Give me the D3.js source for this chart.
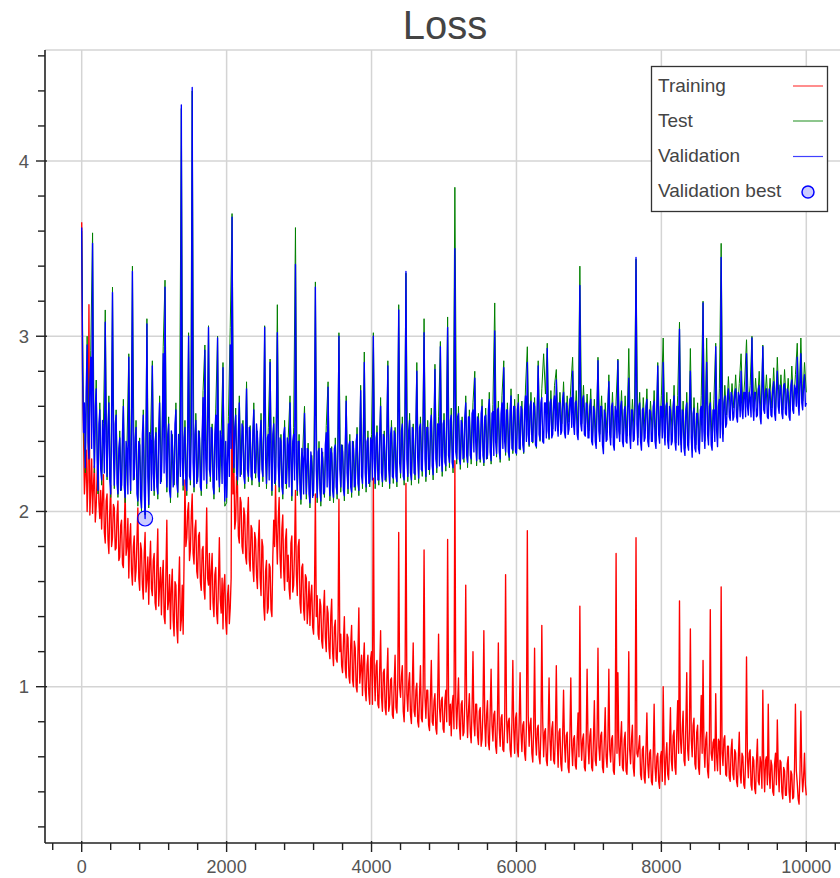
<!DOCTYPE html>
<html>
<head>
<meta charset="utf-8">
<script src="https://cdn.jsdelivr.net/npm/d3@7"></script>
<style>
  body { margin: 0; background: #fff; }
  svg { display: block; }
  text { font-family: "Liberation Sans", Arial, Helvetica, sans-serif; }
</style>
</head>
<body>
<svg id="chart" width="840" height="878"></svg>
<script>
// Loss samples spread evenly over iterations 0 .. 10000
const lastIteration = 10000;

// training loss, one sample every 12.5 iterations
const training = [
  3.65, 2.75, 2.45, 2.10, 2.22, 2.35, 2.00, 2.18, 3.18, 1.98, 2.12, 2.30, 1.99, 2.15, 2.26, 1.94, 2.03, 2.20, 2.31, 2.05, 1.96, 2.12, 1.90, 2.08, 2.21, 1.88, 1.82, 2.06, 2.10, 1.84, 1.76, 2.00, 2.15, 1.80, 1.85, 2.04, 2.02, 1.78, 1.79, 1.98,
  2.06, 1.72, 1.74, 1.92, 1.95, 1.70, 1.68, 1.90, 2.12, 1.75, 1.80, 1.96, 1.62, 1.84, 1.93, 1.66, 1.58, 1.80, 1.86, 1.60, 1.66, 1.84, 2.02, 1.62, 1.55, 1.82, 1.78, 1.58, 1.50, 1.76, 1.88, 1.54, 1.61, 1.74, 1.47, 1.70, 1.83, 1.56, 1.52, 1.72,
  1.76, 1.48, 1.44, 1.70, 1.90, 1.46, 1.58, 1.68, 1.41, 1.62, 1.72, 1.40, 1.36, 1.66, 1.95, 1.44, 1.49, 1.64, 1.33, 1.56, 1.67, 1.38, 1.29, 1.60, 1.58, 1.34, 1.25, 1.56, 1.74, 1.32, 1.38, 1.58, 1.30, 1.72, 2.18, 1.80, 1.85, 2.00, 2.05, 1.72,
  1.78, 1.98, 2.10, 1.76, 1.70, 1.90, 1.95, 1.66, 1.62, 1.86, 1.88, 1.60, 1.55, 1.78, 1.80, 1.56, 1.50, 1.74, 2.02, 1.62, 1.58, 1.76, 1.44, 1.66, 1.76, 1.48, 1.40, 1.64, 1.68, 1.42, 1.36, 1.60, 1.85, 1.50, 1.42, 1.62, 1.33, 1.58, 1.64, 1.38,
  1.30, 1.52, 1.58, 1.36, 1.45, 1.62, 3.20, 2.10, 2.27, 1.90, 1.95, 2.20, 2.15, 1.86, 1.82, 2.08, 2.05, 1.80, 1.76, 2.02, 1.98, 1.74, 1.70, 1.96, 2.08, 1.72, 1.66, 1.92, 1.90, 1.68, 1.60, 1.88, 1.84, 1.64, 1.56, 1.82, 1.95, 1.62, 1.52, 1.84,
  1.80, 1.46, 1.38, 1.66, 1.72, 1.42, 1.45, 1.70, 1.68, 1.44, 1.40, 1.74, 1.95, 1.80, 2.15, 1.88, 1.70, 1.96, 2.08, 1.74, 1.62, 1.90, 1.98, 1.66, 1.55, 1.84, 1.90, 1.60, 1.75, 1.56, 1.50, 1.82, 1.86, 1.54, 1.58, 1.78, 2.12, 1.64, 1.52, 1.80,
  1.84, 1.48, 1.42, 1.68, 1.70, 1.44, 1.38, 1.64, 1.62, 1.36, 1.45, 1.60, 1.35, 1.52, 1.58, 1.34, 1.30, 1.54, 2.10, 1.40, 1.52, 1.30, 1.27, 1.50, 1.46, 1.26, 1.22, 1.44, 1.55, 1.28, 1.20, 1.46, 1.42, 1.22, 1.16, 1.40, 1.50, 1.20, 1.12, 1.34,
  1.38, 1.16, 1.14, 1.32, 2.07, 1.20, 1.30, 1.12, 1.08, 1.26, 1.40, 1.10, 1.05, 1.30, 1.28, 1.06, 1.02, 1.24, 1.35, 1.04, 1.00, 1.26, 1.22, 1.00, 0.97, 1.20, 1.45, 1.02, 1.10, 1.18, 0.95, 1.14, 1.25, 0.98, 0.92, 1.12, 1.18, 0.96, 0.90, 1.16,
  1.20, 0.90, 2.19, 1.08, 0.92, 1.12, 1.15, 0.90, 0.88, 1.10, 1.32, 0.94, 0.86, 1.08, 1.10, 0.88, 0.84, 1.06, 1.22, 0.86, 0.90, 1.04, 1.05, 0.84, 0.82, 1.02, 1.18, 0.88, 0.85, 1.04, 1.88, 1.00, 0.94, 1.06, 1.12, 0.86, 0.80, 1.00, 2.16, 0.96,
  0.86, 1.02, 1.08, 0.84, 0.79, 1.00, 1.25, 0.86, 0.83, 0.98, 1.02, 0.80, 0.77, 0.96, 1.12, 0.82, 0.80, 1.00, 1.78, 0.94, 0.82, 0.98, 0.98, 0.78, 0.75, 0.94, 1.15, 0.80, 0.78, 0.92, 0.96, 0.76, 0.73, 0.94, 1.30, 0.88, 0.80, 0.92, 0.94, 0.76,
  0.74, 0.92, 0.98, 0.80, 1.84, 0.96, 0.78, 0.90, 0.72, 0.90, 0.95, 0.76, 2.29, 0.94, 0.76, 0.90, 1.05, 0.78, 0.70, 0.90, 0.92, 0.72, 0.74, 0.92, 1.58, 0.88, 0.71, 0.86, 0.96, 0.74, 0.68, 0.88, 1.20, 0.80, 0.72, 0.90, 0.90, 0.72, 0.67, 0.86,
  0.88, 0.66, 0.70, 0.86, 1.32, 0.80, 0.66, 0.84, 0.92, 0.68, 0.64, 0.86, 1.10, 0.78, 0.69, 0.84, 0.86, 0.66, 0.62, 0.82, 1.25, 0.76, 0.66, 0.82, 0.84, 0.64, 0.63, 0.80, 1.64, 0.84, 0.68, 0.80, 0.82, 0.64, 0.60, 0.80, 1.15, 0.76, 0.62, 0.82,
  0.85, 0.64, 0.60, 0.80, 1.08, 0.74, 0.63, 0.78, 0.80, 0.62, 0.58, 0.78, 1.89, 0.84, 0.66, 0.78, 0.82, 0.62, 0.57, 0.76, 1.22, 0.72, 0.61, 0.76, 0.78, 0.60, 0.56, 0.74, 1.35, 0.80, 0.60, 0.74, 0.76, 0.58, 0.55, 0.74, 1.05, 0.70, 0.58, 0.76,
  0.80, 0.58, 0.56, 0.74, 1.12, 0.70, 0.54, 0.74, 0.76, 0.56, 0.52, 0.72, 0.98, 0.68, 0.57, 0.72, 0.74, 0.54, 0.51, 0.72, 1.05, 0.66, 0.55, 0.70, 0.72, 0.55, 0.53, 0.70, 0.85, 0.60, 1.46, 0.72, 0.58, 0.70, 0.73, 0.54, 0.52, 0.70, 1.10, 0.68,
  0.56, 0.72, 0.76, 0.54, 0.52, 0.70, 0.92, 0.58, 0.55, 0.72, 1.22, 0.66, 0.58, 0.72, 0.74, 0.54, 0.51, 0.70, 0.88, 0.60, 0.54, 0.70, 1.10, 0.64, 0.57, 0.70, 0.72, 0.52, 0.50, 0.68, 1.76, 0.62, 1.08, 0.66, 0.55, 0.70, 0.80, 0.54, 0.52, 0.70,
  0.74, 0.52, 0.50, 0.68, 1.20, 0.64, 0.56, 0.70, 0.78, 0.54, 0.49, 0.68, 1.85, 0.62, 0.60, 0.66, 0.72, 0.50, 0.47, 0.64, 0.66, 0.48, 0.45, 0.64, 0.85, 0.56, 0.48, 0.62, 0.64, 0.46, 0.44, 0.62, 0.90, 0.54, 0.46, 0.60, 0.62, 0.46, 0.42, 0.60,
  0.63, 0.46, 1.00, 0.62, 0.44, 0.60, 0.68, 0.50, 0.47, 0.66, 0.88, 0.58, 0.52, 0.72, 0.75, 0.54, 0.50, 0.74, 0.92, 0.62, 1.49, 0.70, 0.62, 0.76, 0.86, 0.58, 0.55, 0.78, 1.08, 0.64, 0.58, 0.76, 1.33, 0.70, 0.60, 0.78, 0.82, 0.56, 0.53, 0.74,
  0.78, 0.54, 0.50, 0.72, 0.95, 0.62, 1.15, 0.66, 0.54, 0.70, 0.74, 0.52, 0.48, 0.68, 1.44, 0.62, 0.58, 0.68, 0.70, 0.52, 0.96, 0.60, 0.52, 0.70, 0.68, 0.50, 1.57, 0.62, 0.55, 0.70, 0.72, 0.50, 0.49, 0.66, 0.66, 0.48, 0.46, 0.64, 0.70, 0.50,
  0.47, 0.64, 0.62, 0.46, 0.43, 0.60, 0.74, 0.50, 0.45, 0.62, 0.60, 0.44, 0.42, 0.58, 1.17, 0.60, 0.48, 0.62, 0.64, 0.44, 0.41, 0.60, 0.58, 0.42, 0.39, 0.58, 0.70, 0.46, 0.44, 0.60, 0.56, 0.42, 0.98, 0.56, 0.40, 0.58, 0.60, 0.44, 0.90, 0.50,
  0.42, 0.58, 0.55, 0.40, 0.38, 0.56, 0.62, 0.44, 0.81, 0.54, 0.40, 0.58, 0.57, 0.40, 0.36, 0.54, 0.52, 0.38, 0.38, 0.56, 0.60, 0.40, 0.34, 0.52, 0.50, 0.36, 0.37, 0.54, 0.90, 0.52, 0.45, 0.36, 0.33, 0.50, 0.86, 0.52, 0.40, 0.48, 0.62, 0.44,
  0.38
];

// test loss, one sample every 25 iterations
const test = [
  3.60, 2.50, 2.22, 3.00, 2.35, 2.92, 3.59, 2.22, 2.75, 2.10, 2.62, 2.15, 2.50, 3.15, 2.18, 2.66, 2.08, 3.28, 2.13, 2.58,
  2.08, 2.46, 2.12, 2.64, 2.05, 2.38, 2.90, 2.10, 3.40, 2.18, 2.52, 2.03, 2.42, 2.00, 2.58, 1.98, 3.10, 2.02, 2.44, 2.86,
  2.09, 2.48, 2.07, 2.66, 2.17, 2.94, 3.32, 2.11, 2.54, 2.05, 2.44, 2.15, 2.62, 2.08, 2.40, 4.30, 2.12, 2.52, 2.09, 3.02,
  2.15, 4.40, 2.11, 2.56, 2.17, 2.46, 2.09, 2.69, 2.95, 2.13, 3.06, 2.17, 2.50, 2.07, 2.59, 3.00, 2.11, 2.44, 2.85, 2.03,
  2.05, 2.54, 3.05, 3.70, 2.22, 2.59, 2.15, 2.66, 2.21, 2.52, 2.13, 2.74, 2.17, 2.49, 2.15, 2.62, 2.19, 2.46, 2.14, 2.56,
  2.17, 3.06, 2.13, 2.48, 2.87, 2.09, 2.54, 2.15, 3.18, 2.11, 2.44, 2.07, 2.52, 2.13, 2.42, 2.66, 2.06, 2.48, 3.62, 2.09,
  2.44, 2.04, 2.34, 2.60, 2.07, 2.39, 2.02, 2.32, 2.09, 3.31, 2.05, 2.40, 2.03, 2.34, 2.08, 2.49, 2.74, 2.06, 2.37, 2.05,
  2.42, 2.07, 3.02, 2.11, 2.38, 2.06, 2.66, 2.10, 2.44, 2.08, 2.40, 2.12, 2.48, 2.09, 2.72, 2.13, 2.91, 2.11, 2.46, 2.14,
  2.44, 3.02, 2.13, 2.49, 2.15, 2.65, 2.14, 2.46, 2.17, 2.86, 2.13, 2.52, 2.16, 2.48, 2.14, 3.18, 2.19, 2.54, 2.15, 3.36,
  2.17, 2.56, 2.15, 2.50, 2.18, 2.85, 2.16, 2.54, 2.20, 3.10, 2.17, 2.52, 2.21, 2.59, 2.18, 2.84, 2.22, 2.54, 2.97, 2.20,
  2.56, 2.23, 3.11, 2.25, 2.59, 2.22, 3.85, 2.27, 2.60, 2.24, 2.54, 2.28, 2.66, 2.25, 2.58, 2.27, 2.62, 2.80, 2.26, 2.56,
  2.28, 2.64, 2.26, 2.59, 2.30, 2.68, 2.27, 2.61, 3.19, 2.31, 2.63, 2.28, 2.66, 2.86, 2.32, 2.62, 2.29, 2.70, 2.33, 2.64,
  2.32, 2.67, 2.35, 2.63, 2.33, 2.71, 2.94, 2.37, 2.68, 2.39, 2.65, 2.36, 2.86, 2.40, 2.70, 2.90, 2.67, 2.96, 2.41, 2.69,
  2.47, 2.72, 2.81, 2.46, 2.68, 2.50, 2.74, 2.46, 2.66, 2.51, 2.71, 2.88, 2.48, 2.69, 2.45, 3.40, 2.50, 2.72, 2.47, 2.67,
  2.46, 2.70, 2.42, 2.64, 2.40, 2.88, 2.44, 2.66, 2.37, 2.62, 2.45, 2.78, 2.42, 2.68, 2.39, 2.63, 2.87, 2.44, 2.69, 2.41,
  2.66, 2.43, 2.93, 2.40, 2.64, 2.45, 3.44, 2.42, 2.68, 2.39, 2.65, 2.46, 2.70, 2.41, 2.63, 2.44, 2.69, 2.40, 2.85, 2.43,
  2.66, 2.99, 2.42, 2.68, 2.40, 2.64, 2.44, 2.72, 2.39, 2.66, 3.08, 2.38, 2.63, 2.36, 2.68, 2.39, 2.93, 2.35, 2.65, 2.38,
  2.62, 2.37, 2.66, 3.20, 2.40, 2.99, 2.42, 2.68, 2.39, 2.64, 2.96, 2.41, 2.70, 3.53, 2.44, 2.72, 2.55, 2.77, 2.57, 2.73,
  2.59, 2.78, 2.56, 2.73, 2.90, 2.58, 2.75, 2.98, 2.60, 2.72, 3.00, 2.57, 2.76, 2.60, 2.80, 2.55, 2.95, 2.61, 2.78, 2.58,
  2.76, 2.59, 2.82, 2.57, 2.88, 2.61, 2.78, 2.58, 2.81, 2.60, 2.76, 2.57, 2.83, 2.61, 2.78, 2.96, 2.60, 2.99, 2.63, 2.85,
  2.68
];

// validation loss, one sample every 12.5 iterations
const validation = [
  3.62, 2.80, 2.45, 2.62, 2.25, 2.70, 2.95, 2.40, 2.30, 2.72, 2.88, 2.36, 3.53, 2.48, 2.25, 2.60, 2.70, 2.30, 2.12, 2.50, 2.58, 2.24, 2.18, 2.52, 2.45, 2.22, 3.08, 2.40, 2.20, 2.48, 2.62, 2.18, 2.10, 2.46, 3.25, 2.34, 2.15, 2.50, 2.55, 2.16,
  2.10, 2.36, 2.42, 2.12, 2.15, 2.44, 2.60, 2.14, 2.08, 2.40, 2.35, 2.10, 2.88, 2.30, 2.12, 2.46, 3.37, 2.18, 2.20, 2.42, 2.48, 2.10, 2.06, 2.40, 2.38, 2.08, 2.02, 2.44, 2.55, 2.12, 1.96, 2.30, 3.07, 2.20, 2.04, 2.45, 2.40, 2.12, 2.83, 2.22,
  2.12, 2.40, 2.45, 2.14, 2.10, 2.46, 2.62, 2.16, 2.20, 2.44, 2.90, 2.22, 3.28, 2.30, 2.14, 2.44, 2.50, 2.12, 2.08, 2.46, 2.40, 2.14, 2.18, 2.50, 2.58, 2.16, 2.11, 2.44, 2.36, 2.20, 4.32, 2.30, 2.15, 2.42, 2.48, 2.16, 2.12, 2.40, 3.00, 2.20,
  2.18, 2.44, 4.42, 2.28, 2.14, 2.44, 2.52, 2.16, 2.20, 2.46, 2.42, 2.14, 2.12, 2.44, 2.65, 2.18, 2.92, 2.30, 2.16, 2.46, 3.05, 2.24, 2.20, 2.48, 2.46, 2.14, 2.10, 2.44, 2.55, 2.18, 2.99, 2.26, 2.14, 2.46, 2.40, 2.16, 2.82, 2.30, 2.06, 2.40,
  2.08, 2.30, 2.50, 2.20, 2.95, 2.36, 3.68, 2.50, 2.25, 2.48, 2.55, 2.22, 2.18, 2.46, 2.62, 2.20, 2.24, 2.50, 2.48, 2.20, 2.16, 2.44, 2.70, 2.24, 2.20, 2.48, 2.45, 2.20, 2.18, 2.46, 2.58, 2.22, 2.22, 2.50, 2.42, 2.20, 2.17, 2.44, 2.52, 2.24,
  2.20, 2.46, 3.05, 2.30, 2.16, 2.42, 2.44, 2.18, 2.85, 2.30, 2.12, 2.44, 2.50, 2.16, 2.18, 2.46, 3.02, 2.26, 2.14, 2.42, 2.40, 2.14, 2.10, 2.44, 2.48, 2.16, 2.16, 2.42, 2.38, 2.14, 2.62, 2.30, 2.09, 2.40, 2.44, 2.18, 3.41, 2.28, 2.12, 2.40,
  2.40, 2.12, 2.07, 2.36, 2.30, 2.10, 2.56, 2.28, 2.10, 2.36, 2.35, 2.10, 2.05, 2.34, 2.28, 2.08, 2.12, 2.38, 3.28, 2.24, 2.08, 2.34, 2.36, 2.12, 2.06, 2.36, 2.30, 2.10, 2.11, 2.38, 2.45, 2.14, 2.71, 2.20, 2.09, 2.36, 2.33, 2.12, 2.08, 2.36,
  2.38, 2.14, 2.10, 2.36, 3.00, 2.24, 2.14, 2.38, 2.34, 2.12, 2.09, 2.38, 2.63, 2.22, 2.13, 2.38, 2.40, 2.14, 2.11, 2.40, 2.36, 2.14, 2.15, 2.40, 2.44, 2.16, 2.12, 2.38, 2.69, 2.20, 2.16, 2.40, 2.85, 2.22, 2.14, 2.40, 2.42, 2.16, 2.17, 2.42,
  2.40, 2.18, 3.00, 2.30, 2.16, 2.42, 2.45, 2.18, 2.18, 2.44, 2.60, 2.22, 2.17, 2.44, 2.42, 2.18, 2.20, 2.46, 2.83, 2.24, 2.16, 2.44, 2.48, 2.20, 2.19, 2.46, 2.44, 2.20, 2.17, 2.46, 3.15, 2.28, 2.22, 2.46, 2.50, 2.20, 2.18, 2.44, 3.37, 2.30,
  2.20, 2.46, 2.52, 2.22, 2.18, 2.48, 2.46, 2.22, 2.21, 2.46, 2.80, 2.30, 2.19, 2.48, 2.50, 2.24, 2.23, 2.50, 3.02, 2.30, 2.20, 2.48, 2.48, 2.24, 2.24, 2.50, 2.55, 2.26, 2.21, 2.48, 2.81, 2.30, 2.25, 2.50, 2.50, 2.26, 2.94, 2.32, 2.23, 2.50,
  2.52, 2.28, 2.26, 2.50, 3.05, 2.32, 2.28, 2.52, 2.55, 2.28, 2.25, 2.52, 3.50, 2.34, 2.30, 2.54, 2.56, 2.30, 2.27, 2.52, 2.50, 2.30, 2.31, 2.54, 2.62, 2.32, 2.28, 2.54, 2.54, 2.32, 2.30, 2.56, 2.58, 2.34, 2.76, 2.40, 2.29, 2.54, 2.52, 2.30,
  2.30, 2.56, 2.60, 2.32, 2.28, 2.54, 2.55, 2.30, 2.32, 2.58, 2.64, 2.34, 2.29, 2.56, 2.57, 2.32, 3.03, 2.40, 2.33, 2.58, 2.59, 2.34, 2.30, 2.56, 2.62, 2.36, 2.82, 2.40, 2.34, 2.58, 2.58, 2.34, 2.31, 2.58, 2.66, 2.36, 2.35, 2.60, 2.60, 2.34,
  2.33, 2.58, 2.62, 2.36, 2.36, 2.60, 2.58, 2.38, 2.34, 2.58, 2.66, 2.40, 2.85, 2.44, 2.38, 2.60, 2.63, 2.40, 2.40, 2.62, 2.60, 2.38, 2.37, 2.60, 2.83, 2.44, 2.41, 2.62, 2.65, 2.40, 2.39, 2.62, 2.62, 2.42, 2.93, 2.46, 2.42, 2.62, 2.64, 2.42,
  2.44, 2.62, 2.66, 2.46, 2.75, 2.50, 2.43, 2.62, 2.62, 2.44, 2.46, 2.64, 2.68, 2.45, 2.42, 2.62, 2.60, 2.44, 2.47, 2.64, 2.65, 2.48, 2.80, 2.50, 2.44, 2.62, 2.63, 2.44, 2.41, 2.60, 3.29, 2.50, 2.46, 2.64, 2.66, 2.44, 2.43, 2.62, 2.61, 2.42,
  2.42, 2.60, 2.64, 2.40, 2.38, 2.60, 2.58, 2.40, 2.36, 2.58, 2.86, 2.46, 2.40, 2.60, 2.60, 2.38, 2.33, 2.58, 2.56, 2.40, 2.41, 2.60, 2.74, 2.44, 2.38, 2.60, 2.62, 2.38, 2.35, 2.60, 2.57, 2.42, 2.86, 2.46, 2.40, 2.60, 2.63, 2.40, 2.37, 2.58,
  2.60, 2.40, 2.39, 2.60, 2.76, 2.44, 2.36, 2.58, 2.58, 2.40, 2.41, 2.60, 3.45, 2.50, 2.38, 2.60, 2.62, 2.40, 2.35, 2.58, 2.59, 2.40, 2.42, 2.60, 2.64, 2.40, 2.37, 2.58, 2.57, 2.40, 2.40, 2.60, 2.63, 2.40, 2.36, 2.58, 2.83, 2.44, 2.39, 2.60,
  2.60, 2.42, 2.85, 2.46, 2.38, 2.60, 2.62, 2.40, 2.36, 2.60, 2.58, 2.38, 2.40, 2.60, 2.66, 2.40, 2.35, 2.60, 2.60, 2.38, 3.04, 2.44, 2.34, 2.58, 2.57, 2.36, 2.32, 2.58, 2.62, 2.38, 2.35, 2.58, 2.80, 2.42, 2.31, 2.56, 2.59, 2.36, 2.34, 2.56,
  2.56, 2.36, 2.33, 2.58, 2.60, 2.40, 3.19, 2.46, 2.36, 2.60, 2.85, 2.44, 2.38, 2.60, 2.62, 2.38, 2.35, 2.58, 2.58, 2.40, 2.94, 2.46, 2.37, 2.60, 2.64, 2.42, 3.45, 2.50, 2.40, 2.62, 2.66, 2.48, 2.50, 2.66, 2.70, 2.54, 2.52, 2.68, 2.66, 2.52,
  2.54, 2.68, 2.70, 2.54, 2.51, 2.68, 2.66, 2.54, 2.80, 2.58, 2.53, 2.68, 2.68, 2.54, 2.90, 2.60, 2.55, 2.68, 2.64, 2.54, 2.99, 2.60, 2.52, 2.68, 2.68, 2.54, 2.55, 2.70, 2.72, 2.54, 2.50, 2.68, 2.94, 2.58, 2.56, 2.68, 2.70, 2.54, 2.53, 2.70,
  2.68, 2.55, 2.54, 2.70, 2.74, 2.56, 2.52, 2.70, 2.80, 2.60, 2.56, 2.72, 2.70, 2.56, 2.53, 2.72, 2.73, 2.56, 2.55, 2.70, 2.68, 2.54, 2.52, 2.72, 2.75, 2.58, 2.56, 2.72, 2.70, 2.60, 2.88, 2.62, 2.55, 2.72, 2.90, 2.62, 2.58, 2.72, 2.78, 2.60,
  2.62
];

const xMajorTicks = [0, 2000, 4000, 6000, 8000, 10000];
const xMinorTicks = [-400, 400, 800, 1200, 1600, 2400, 2800, 3200, 3600, 4400, 4800, 5200, 5600,
                     6400, 6800, 7200, 7600, 8400, 8800, 9200, 9600, 10400];
const yMajorTicks = [1, 2, 3, 4];
const yMinorTicks = [0.2, 0.4, 0.6, 0.8, 1.2, 1.4, 1.6, 1.8, 2.2, 2.4, 2.6, 2.8,
                     3.2, 3.4, 3.6, 3.8, 4.2, 4.4, 4.6];

const seriesNames = ["Training", "Test", "Validation"];
const seriesColors = ["#ff0000", "#008000", "#0000ff"];
const seriesWidths = [1.35, 1.0, 1.35];
const bestLabel = "Validation best";
const titleText = "Loss";

// ---- layout ----
const svg = d3.select("#chart");
const W = 840, H = 878;
const plot = { left: 45, right: 840, top: 50, bottom: 843 };

const x = d3.scaleLinear().domain([0, 10000]).range([81.7, 806.3]);
const y = d3.scaleLinear().domain([1, 4]).range([686.7, 161]);

svg.append("rect").attr("width", W).attr("height", H).attr("fill", "#fff");

// title
svg.append("text")
  .attr("x", 445).attr("y", 39)
  .attr("text-anchor", "middle")
  .attr("font-size", 40)
  .attr("fill", "#444")
  .text(titleText);

// grid
const grid = svg.append("g").attr("stroke", "#d4d4d4").attr("stroke-width", 1.5);
grid.selectAll("line.gx").data(xMajorTicks).join("line")
  .attr("x1", d => x(d)).attr("x2", d => x(d))
  .attr("y1", plot.top).attr("y2", plot.bottom);
grid.selectAll("line.gy").data(yMajorTicks).join("line")
  .attr("x1", plot.left).attr("x2", plot.right)
  .attr("y1", d => y(d)).attr("y2", d => y(d));
grid.append("line")
  .attr("x1", plot.left).attr("x2", plot.right)
  .attr("y1", plot.top).attr("y2", plot.top);

// series
svg.append("clipPath").attr("id", "plotClip")
  .append("rect")
  .attr("x", plot.left).attr("y", plot.top)
  .attr("width", plot.right - plot.left).attr("height", plot.bottom - plot.top);

// iteration of sample i when n samples span 0 .. lastIteration
const iterOf = (i, n) => i * lastIteration / (n - 1);

const seriesData = [training, test, validation];
const lines = svg.append("g").attr("clip-path", "url(#plotClip)");
seriesData.forEach((vals, k) => {
  const line = d3.line()
    .x((d, i) => x(iterOf(i, vals.length)))
    .y(d => y(d));
  lines.append("path")
    .datum(vals)
    .attr("d", line)
    .attr("fill", "none")
    .attr("stroke", seriesColors[k])
    .attr("stroke-width", seriesWidths[k])
    .attr("stroke-linejoin", "round");
});

// best validation point
const bestIdx = d3.minIndex(validation);
lines.append("circle")
  .attr("cx", x(iterOf(bestIdx, validation.length)))
  .attr("cy", y(validation[bestIdx]))
  .attr("r", 7.5)
  .attr("fill", "rgba(0,0,255,0.2)")
  .attr("stroke", "#0000ff")
  .attr("stroke-width", 1.2);

// axes
const axisColor = "#222";
const labelColor = "#555";
const xAxisG = svg.append("g");
xAxisG.append("line")
  .attr("x1", plot.left).attr("x2", plot.right)
  .attr("y1", plot.bottom).attr("y2", plot.bottom)
  .attr("stroke", axisColor).attr("stroke-width", 1.6);
xAxisG.selectAll("line.xmin").data(xMinorTicks).join("line")
  .attr("x1", d => x(d)).attr("x2", d => x(d))
  .attr("y1", plot.bottom).attr("y2", plot.bottom + 7)
  .attr("stroke", axisColor).attr("stroke-width", 1.4);
xAxisG.selectAll("line.xmaj").data(xMajorTicks).join("line")
  .attr("x1", d => x(d)).attr("x2", d => x(d))
  .attr("y1", plot.bottom - 2).attr("y2", plot.bottom + 9)
  .attr("stroke", axisColor).attr("stroke-width", 1.4);
xAxisG.selectAll("text").data(xMajorTicks).join("text")
  .attr("x", d => x(d)).attr("y", 873)
  .attr("text-anchor", "middle")
  .attr("font-size", 18)
  .attr("fill", labelColor)
  .text(d => d3.format("d")(d));

const yAxisG = svg.append("g");
yAxisG.append("line")
  .attr("x1", plot.left).attr("x2", plot.left)
  .attr("y1", plot.top).attr("y2", plot.bottom)
  .attr("stroke", axisColor).attr("stroke-width", 1.6);
yAxisG.selectAll("line.ymin").data(yMinorTicks).join("line")
  .attr("x1", plot.left - 7).attr("x2", plot.left)
  .attr("y1", d => y(d)).attr("y2", d => y(d))
  .attr("stroke", axisColor).attr("stroke-width", 1.4);
yAxisG.selectAll("line.ymaj").data(yMajorTicks).join("line")
  .attr("x1", plot.left - 9).attr("x2", plot.left + 2)
  .attr("y1", d => y(d)).attr("y2", d => y(d))
  .attr("stroke", axisColor).attr("stroke-width", 1.4);
yAxisG.selectAll("text").data(yMajorTicks).join("text")
  .attr("x", 29).attr("y", d => y(d) + 6.5)
  .attr("text-anchor", "end")
  .attr("font-size", 18.5)
  .attr("fill", labelColor)
  .text(d => d);

// legend
const legend = svg.append("g");
legend.append("rect")
  .attr("x", 651.5).attr("y", 66.5).attr("width", 176).attr("height", 145)
  .attr("fill", "#fff").attr("stroke", "#333").attr("stroke-width", 1.3);
const rowsY = [85, 120, 155.5, 190];
seriesNames.forEach((name, k) => {
  legend.append("text")
    .attr("x", 658).attr("y", rowsY[k] + 6.5)
    .attr("font-size", 19).attr("fill", "#444")
    .text(name);
  legend.append("line")
    .attr("x1", 793).attr("x2", 823)
    .attr("y1", rowsY[k] + 1).attr("y2", rowsY[k] + 1)
    .attr("stroke", seriesColors[k]).attr("stroke-width", 1.2)
    .attr("stroke-opacity", 0.75);
});
legend.append("text")
  .attr("x", 658).attr("y", rowsY[3] + 6.5)
  .attr("font-size", 19).attr("fill", "#444")
  .text(bestLabel);
legend.append("circle")
  .attr("cx", 808).attr("cy", rowsY[3] + 2).attr("r", 6)
  .attr("fill", "rgba(0,0,255,0.2)")
  .attr("stroke", "#0000ff").attr("stroke-width", 1.5);
</script>
</body>
</html>
